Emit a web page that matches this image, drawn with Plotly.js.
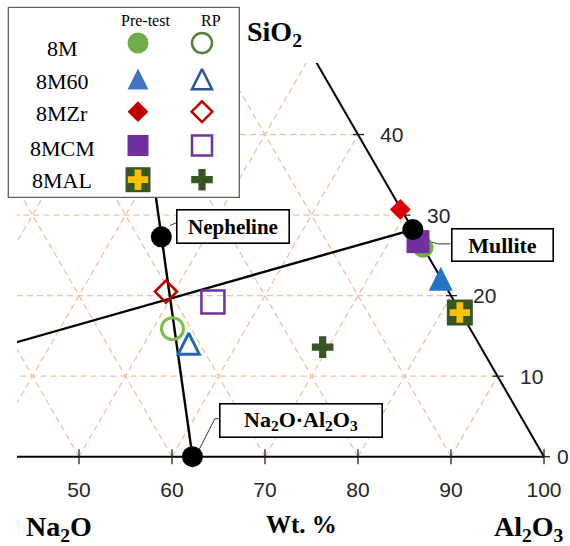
<!DOCTYPE html>
<html>
<head>
<meta charset="utf-8">
<script src="https://cdn.plot.ly/plotly-3.0.1.min.js"></script>
<style>
html,body{margin:0;padding:0;background:#fff;}
#chart{width:570px;height:546px;}
</style>
</head>
<body>
<div id="chart"></div>
<script>
// ---------------- DATA (wt.%) ----------------
const samples   = ['8M', '8M60', '8MZr', '8MCM', '8MAL'];
// Pre-test compositions
const preNa2O   = [0.0, 0.3, 0.1, 0.2, 0.1];
const preAl2O3  = [74.0, 78.1, 69.2, 73.1, 82.0];
const preSiO2   = [26.0, 21.6, 30.7, 26.7, 17.9];
// RP compositions
const rpNa2O    = [32.0, 31.4, 30.4, 26.0, 17.0];
const rpAl2O3   = [52.1, 55.0, 49.1, 54.8, 69.4];
const rpSiO2    = [15.9, 13.6, 20.5, 19.2, 13.6];
// Reference phases
const phaseNames = ['Nepheline', 'Mullite', 'Na<sub>2</sub>O·Al<sub>2</sub>O<sub>3</sub>'];
const phaseNa2O  = [27.5, 0.0, 37.8];
const phaseAl2O3 = [45.2, 71.8, 62.2];
const phaseSiO2  = [27.3, 28.2, 0.0];
// Corners of the ternary (Na2O, Al2O3, SiO2)
const cornerNa2O  = [100, 0, 0];
const cornerAl2O3 = [0, 100, 0];
const cornerSiO2  = [0, 0, 100];
// Ticks / labels
const gridTicks   = [10, 20, 30, 40, 50, 60, 70, 80, 90];
const bottomTicks = [50, 60, 70, 80, 90, 100];   // Al2O3 along the base
const rightTicks  = [0, 10, 20, 30, 40];          // SiO2 along the Al2O3-SiO2 edge
const colHeaders  = ['Pre-test', 'RP'];
const labelSiO2   = 'SiO<sub>2</sub>';
const labelNa2O   = 'Na<sub>2</sub>O';
const labelAl2O3  = 'Al<sub>2</sub>O<sub>3</sub>';
const labelUnit   = 'Wt. %';

// ---------------- GEOMETRY ----------------
const W = 570, H = 546;
const PX = 9.3;                 // px per wt.% along an edge
const ORIGIN = [79, 456.7];     // pixel of (Al2O3 = 50, SiO2 = 0)
const PLOT = {l: 17, r: 552, t: 63, b: 470};
const xRange = [50 + (PLOT.l - ORIGIN[0]) / PX, 50 + (PLOT.r - ORIGIN[0]) / PX];
const yRange = [(ORIGIN[1] - PLOT.b) / PX, (ORIGIN[1] - PLOT.t) / PX];
const S3 = Math.sqrt(3) / 2;
function tern(na, al, si) {
  const s = na + al + si;
  return [100 * (al + si / 2) / s, 100 * si * S3 / s];
}
function ternA(c) { return tern(c[0], c[1], c[2]); }
function off(p, dx, dy) { return [p[0] + dx / PX, p[1] - dy / PX]; }

const SERIF = 'Liberation Serif, Times New Roman, serif';
const SANS = 'Liberation Sans, Arial, sans-serif';

const traces = [];

// grid
const gx = [], gy = [];
function seg(a, b, X, Y) { X.push(a[0], b[0], null); Y.push(a[1], b[1], null); }
gridTicks.forEach(k => {
  seg(tern(100 - k, 0, k), tern(0, 100 - k, k), gx, gy);     // const SiO2
  seg(tern(100 - k, k, 0), tern(0, k, 100 - k), gx, gy);     // const Al2O3
  seg(tern(k, 100 - k, 0), tern(k, 0, 100 - k), gx, gy);     // const Na2O
});
traces.push({x: gx, y: gy, mode: 'lines', hoverinfo: 'skip',
  line: {color: '#f2c0a0', width: 1.3, dash: '6px,4px'}});

// triangle edges
const ex = [], ey = [];
seg(ternA(cornerNa2O), ternA(cornerAl2O3), ex, ey);
seg(ternA(cornerAl2O3), ternA(cornerSiO2), ex, ey);
traces.push({x: ex, y: ey, mode: 'lines', hoverinfo: 'skip', line: {color: '#000', width: 2}});

// tick marks
const tx = [], ty = [];
bottomTicks.forEach(v => { const p = tern(100 - v, v, 0); seg(off(p, 0, -7.5), off(p, 0, 7.5), tx, ty); });
rightTicks.forEach(v => { const p = tern(0, 100 - v, v); seg(off(p, -5, 0), off(p, 6, 0), tx, ty); });
traces.push({x: tx, y: ty, mode: 'lines', hoverinfo: 'skip', line: {color: '#222', width: 1.3}});

// tie lines
const phasePts = phaseNames.map((n, i) => tern(phaseNa2O[i], phaseAl2O3[i], phaseSiO2[i]));
const lx = [], ly = [];
seg(ternA(cornerNa2O), phasePts[1], lx, ly);
seg(phasePts[2], ternA(cornerSiO2), lx, ly);
traces.push({x: lx, y: ly, mode: 'lines', hoverinfo: 'skip', line: {color: '#000', width: 2.4}});

// callout connectors (pixel offsets from each phase point)
const conn = [
  [[8.7, -11.3], [16, -14.6], [19.4, -14.6]],
  [[10, 10], [25.3, 14.3], [37.7, 14.3]],
  [[5.7, -5.3], [22.4, -38], [30, -38]]
];
const cx = [], cy = [];
conn.forEach((c, i) => {
  c.forEach(o => { const q = off(phasePts[i], o[0], o[1]); cx.push(q[0]); cy.push(q[1]); });
  cx.push(null); cy.push(null);
});
traces.push({x: cx, y: cy, mode: 'lines', hoverinfo: 'skip', line: {color: '#333', width: 1}});

// marker styles (arrow-down turned 180deg = tall up-triangle; standoff centres it on the point)
const preStyle = [
  {symbol: 'circle', size: 21, color: '#70ad47'},
  {symbol: 'arrow-down', size: 24, color: '#2474c6', tri: true},
  {symbol: 'diamond', size: 16, color: '#dc0000'},
  {symbol: 'square', size: 23, color: '#7030a0'},
  {symbol: 'square', size: 26, color: '#375623'}
];
const rpStyle = [
  {symbol: 'circle-open', size: 22, color: '#7cbf4a', lw: 3},
  {symbol: 'arrow-down-open', size: 21, color: '#2068bd', lw: 3, tri: true},
  {symbol: 'diamond-open', size: 17, color: '#c00000', lw: 2.5},
  {symbol: 'square-open', size: 23, color: '#7030a0', lw: 2.5},
  {symbol: 'cross', size: 18, color: '#375623', lw: 0}
];
const overlay8MAL = {symbol: 'cross', size: 17, color: '#ffc000'};

function mk(st) {
  const m = {symbol: st.symbol, size: st.size, color: st.color,
    line: {width: st.lw || 0, color: st.color}};
  if (st.tri) { m.angle = 180; m.standoff = st.size * 2 / 3; }
  return m;
}

// RP points
samples.forEach((s, i) => {
  const p = tern(rpNa2O[i], rpAl2O3[i], rpSiO2[i]);
  traces.push({x: [p[0]], y: [p[1]], mode: 'markers', name: s + ' RP', marker: mk(rpStyle[i])});
});
// Pre-test points
samples.forEach((s, i) => {
  const p = tern(preNa2O[i], preAl2O3[i], preSiO2[i]);
  traces.push({x: [p[0]], y: [p[1]], mode: 'markers', name: s + ' Pre-test', marker: mk(preStyle[i])});
  if (s === '8MAL') traces.push({x: [p[0]], y: [p[1]], mode: 'markers', hoverinfo: 'skip', marker: mk(overlay8MAL)});
});
// Phases
traces.push({x: phasePts.map(p => p[0]), y: phasePts.map(p => p[1]), mode: 'markers',
  text: phaseNames, hoverinfo: 'text', marker: {symbol: 'circle', size: 21, color: '#000'}});

// ---------------- LEGEND (pixel coordinates on x2/y2) ----------------
const LB = {l: 8.3, r: 239.3, t: 7.3, b: 197.3};
traces.push({x: [LB.l, LB.r, LB.r, LB.l, LB.l], y: [LB.t, LB.t, LB.b, LB.b, LB.t],
  xaxis: 'x2', yaxis: 'y2', mode: 'lines', fill: 'toself', fillcolor: '#fff',
  hoverinfo: 'skip', line: {color: '#606060', width: 1.3}});
const legPreX = 138, legRpX = 202;
const legMarkY = [43, 82.5, 111.7, 145.5, 179.7];
const legTextY = [48.5, 82, 114, 148, 180];
const legPre = [
  {symbol: 'circle', size: 21, color: '#70ad47'},
  {symbol: 'arrow-down', size: 21, color: '#4472c4', tri: true},
  {symbol: 'diamond', size: 16, color: '#c00000'},
  {symbol: 'square', size: 21, color: '#7030a0'},
  {symbol: 'square', size: 25, color: '#375623'}
];
const legRp = [
  {symbol: 'circle-open', size: 20, color: '#548235', lw: 2.5},
  {symbol: 'arrow-down-open', size: 20, color: '#2f5597', lw: 2.5, tri: true},
  {symbol: 'diamond-open', size: 16, color: '#c00000', lw: 2.5},
  {symbol: 'square-open', size: 20, color: '#7030a0', lw: 2.5},
  {symbol: 'cross', size: 18, color: '#375623', lw: 0}
];
samples.forEach((s, i) => {
  traces.push({x: [legPreX], y: [legMarkY[i]], xaxis: 'x2', yaxis: 'y2', mode: 'markers', hoverinfo: 'skip', marker: mk(legPre[i])});
  if (s === '8MAL') traces.push({x: [legPreX], y: [legMarkY[i]], xaxis: 'x2', yaxis: 'y2', mode: 'markers', hoverinfo: 'skip', marker: mk(overlay8MAL)});
  traces.push({x: [legRpX], y: [legMarkY[i]], xaxis: 'x2', yaxis: 'y2', mode: 'markers', hoverinfo: 'skip', marker: mk(legRp[i])});
});

// ---------------- ANNOTATIONS ----------------
const ann = [];
function paperText(text, px, py, size, bold) {
  ann.push({xref: 'paper', yref: 'paper', x: px / W, y: 1 - py / H, xanchor: 'center', yanchor: 'middle',
    showarrow: false, text: bold ? '<b>' + text + '</b>' : text, font: {family: SERIF, size: size, color: '#000'}});
}
paperText(labelSiO2, 274, 33, 28, true);
paperText(labelNa2O, 58.5, 528, 28, true);
paperText(labelUnit, 301, 524, 25, true);
paperText(labelAl2O3, 529, 528, 28, true);

rightTicks.forEach(v => {
  const p = tern(0, 100 - v, v);
  ann.push({xref: 'x', yref: 'y', x: p[0], y: p[1], xanchor: 'left', yanchor: 'middle',
    xshift: String(v).length === 1 ? 11 : 20, showarrow: false, text: String(v),
    font: {family: SANS, size: 21, color: '#262626'}});
});

// legend texts
samples.forEach((s, i) => {
  ann.push({xref: 'x2', yref: 'y2', x: 62, y: legTextY[i], xanchor: 'center', yanchor: 'middle',
    showarrow: false, text: s, font: {family: SERIF, size: 22, color: '#000'}});
});
ann.push({xref: 'x2', yref: 'y2', x: 145, y: 20.5, xanchor: 'center', yanchor: 'middle', showarrow: false,
  text: colHeaders[0], font: {family: SERIF, size: 16, color: '#000'}});
ann.push({xref: 'x2', yref: 'y2', x: 211, y: 20.5, xanchor: 'center', yanchor: 'middle', showarrow: false,
  text: colHeaders[1], font: {family: SERIF, size: 16, color: '#000'}});

// callout boxes
const boxes = [
  {c: [233, 226.7], w: 114, h: 35, size: 21},
  {c: [502, 244.7], w: 103, h: 34, size: 22},
  {c: [301.3, 420], w: 164, h: 35, size: 22}
];
boxes.forEach((b, i) => {
  ann.push({xref: 'paper', yref: 'paper', x: b.c[0] / W, y: 1 - b.c[1] / H, xanchor: 'center', yanchor: 'middle',
    showarrow: false, text: '<b>' + phaseNames[i] + '</b>', font: {family: SERIF, size: b.size, color: '#000'},
    bgcolor: '#fff', bordercolor: '#000', borderwidth: 1.6, borderpad: 0, width: b.w - 3.2, height: b.h - 3.2});
});

const layout = {
  width: W, height: H,
  margin: {l: 0, r: 0, t: 0, b: 0},
  paper_bgcolor: '#fff', plot_bgcolor: 'rgba(0,0,0,0)',
  showlegend: false, hovermode: 'closest',
  xaxis: {domain: [PLOT.l / W, PLOT.r / W], range: xRange, showgrid: false, zeroline: false, showline: false,
    ticks: '', tickmode: 'array', tickvals: bottomTicks, ticktext: bottomTicks.map(String),
    tickfont: {family: SANS, size: 21, color: '#262626'}, ticklabelstandoff: 5, fixedrange: true},
  yaxis: {domain: [1 - PLOT.b / H, 1 - PLOT.t / H], range: yRange, visible: false, fixedrange: true},
  xaxis2: {domain: [6 / W, 242 / W], range: [6, 242], visible: false, anchor: 'y2', fixedrange: true},
  yaxis2: {domain: [1 - 200 / H, 1 - 4 / H], range: [200, 4], visible: false, anchor: 'x2', fixedrange: true},
  annotations: ann
};

Plotly.newPlot('chart', traces, layout, {displayModeBar: false, staticPlot: true});
</script>
</body>
</html>
